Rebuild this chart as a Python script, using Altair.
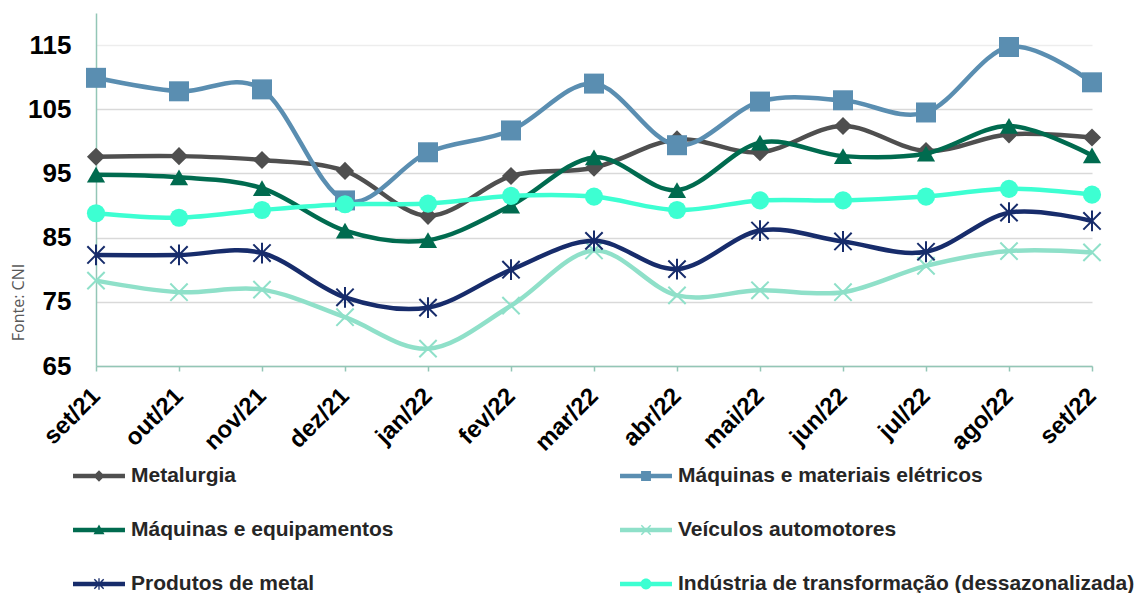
import altair as alt
import pandas as pd

months = ["set/21", "out/21", "nov/21", "dez/21", "jan/22", "fev/22", "mar/22",
          "abr/22", "mai/22", "jun/22", "jul/22", "ago/22", "set/22"]

names = ["Metalurgia", "Máquinas e materiais elétricos", "Máquinas e equipamentos",
         "Veículos automotores", "Produtos de metal",
         "Indústria de transformação (dessazonalizada)"]

metalurgia = [97.6, 97.7, 97.1, 95.4, 88.4, 94.6, 95.9, 100.3, 98.3, 102.4, 98.5, 101.1, 100.6]
eletricos = [109.9, 107.8, 108.1, 90.8, 98.3, 101.7, 109.0, 99.4, 106.2, 106.4, 104.5, 114.7, 109.2]
equipamentos = [94.8, 94.4, 92.7, 86.1, 84.6, 90.0, 97.5, 92.4, 99.8, 97.7, 98.1, 102.4, 97.8]
veiculos = [78.3, 76.5, 76.9, 72.6, 67.7, 74.4, 83.0, 76.0, 76.8, 76.5, 80.6, 82.9, 82.7]
produtos = [82.3, 82.3, 82.6, 75.7, 74.1, 80.0, 84.5, 80.1, 86.1, 84.4, 82.8, 88.9, 87.6]
industria = [88.8, 88.1, 89.3, 90.2, 90.3, 91.5, 91.4, 89.3, 90.8, 90.8, 91.4, 92.6, 91.7]

series_values = [metalurgia, eletricos, equipamentos, veiculos, produtos, industria]
colors = ["#4F4F4F", "#5A8EB1", "#006B4F", "#8FE0C9", "#172C6B", "#3DFFD2"]

# plot markers: (shape, size, filled)
markers = [
    ("diamond", 330, True),
    ("square", 400, True),
    ("triangle-up", 330, True),
    ("M-1,-1L1,1M1,-1L-1,1", 300, False),
    ("M-1,-1L1,1M1,-1L-1,1M0,-1.2L0,1.2", 300, False),
    ("circle", 330, True),
]

LINE = "M-1,-0.087L1,-0.087L1,0.087L-1,0.087Z"
XMARK = "M-0.2,-0.16L-0.16,-0.2L0.2,0.16L0.16,0.2ZM0.16,-0.2L0.2,-0.16L-0.16,0.2L-0.2,0.16Z"
legend_paths = [
    LINE + "M0,-0.22L0.22,0L0,0.22L-0.22,0Z",
    LINE + "M-0.19,-0.19L0.19,-0.19L0.19,0.19L-0.19,0.19Z",
    LINE + "M0,-0.21L0.21,0.16L-0.21,0.16Z",
    LINE + XMARK,
    LINE + XMARK + "M-0.025,-0.22L0.025,-0.22L0.025,0.22L-0.025,0.22Z",
    LINE + "M-0.21,0A0.21,0.21,0,1,1,0.21,0A0.21,0.21,0,1,1,-0.21,0Z",
]

rows = []
for name, vals in zip(names, series_values):
    for m, v in zip(months, vals):
        rows.append({"serie": name, "mes": m, "valor": v})
df = pd.DataFrame(rows)

AXIS_COLOR = "#93C6B6"
FONT = "Liberation Sans"

x_enc = alt.X(
    "mes:N", sort=months, title=None,
    scale=alt.Scale(type="point", padding=0),
    axis=alt.Axis(
        labelAngle=315, labelAlign="right", labelBaseline="middle",
        labelFont=FONT, labelFontSize=24, labelFontWeight="bold", labelColor="#000000",
        labelPadding=21, tickSize=5, tickColor=AXIS_COLOR, tickWidth=1.5,
        domainColor=AXIS_COLOR, domainWidth=1.5, grid=False, labelOverlap=False,
    ),
)
y_enc = alt.Y(
    "valor:Q",
    scale=alt.Scale(domain=[65, 120], nice=False, zero=False),
    axis=alt.Axis(
        values=[65, 75, 85, 95, 105, 115], ticks=False,
        labelFont=FONT, labelFontSize=26, labelFontWeight="bold", labelColor="#000000",
        labelPadding=25, domainColor=AXIS_COLOR, domainWidth=1.5,
        grid=True, gridWidth=1.5,
        gridColor={"condition": {"test": "datum.value === 115", "value": "#EDEDED"},
                   "value": "#D9D9D9"},
        title="Fonte: CNI", titleAngle=270, titleX=-78, titleY=302 - 13,
        titleAlign="center", titleBaseline="middle",
        titleFont="Open Sans", titleFontSize=16, titleFontWeight="normal", titleColor="#595959",
    ),
)

layers = []
for name, color, (shape, size, filled) in zip(names, colors, markers):
    base = alt.Chart(df).transform_filter(alt.datum.serie == name)
    layers.append(base.mark_line(interpolate="cardinal", strokeWidth=4.5, color=color)
                  .encode(x=x_enc, y=y_enc))
    if filled:
        pts = base.mark_point(filled=True, shape=shape, size=size, color=color, opacity=1)
    else:
        pts = base.mark_point(filled=False, shape=shape, size=size, color=color,
                              strokeWidth=2, opacity=1)
    layers.append(pts.encode(x=x_enc, y=y_enc))

leg = alt.Legend(
    title=None, orient="none", legendX=-23, legendY=437, columns=2, direction="horizontal",
    columnPadding=226, rowPadding=18, padding=0,
    symbolSize=2700, symbolStrokeWidth=0, symbolOpacity=1,
    labelFont=FONT, labelFontSize=21, labelFontWeight="bold", labelColor="#262626",
    labelOffset=6, labelLimit=700,
)
legend_layer = alt.Chart(df).transform_filter("false").mark_point(filled=True).encode(
    x=x_enc, y=y_enc,
    color=alt.Color("serie:N", scale=alt.Scale(domain=names, range=colors), legend=leg),
    shape=alt.Shape("serie:N", scale=alt.Scale(domain=names, range=legend_paths), legend=leg),
)

chart = alt.layer(*layers, legend_layer).properties(
    width=996, height=353,
    autosize=alt.AutoSizeParams(type="none"),
    padding={"left": 88, "top": 5, "right": 46, "bottom": 227},
).configure_view(stroke=None)

chart.save("out.html", embed_options={"renderer": "svg", "actions": False})
